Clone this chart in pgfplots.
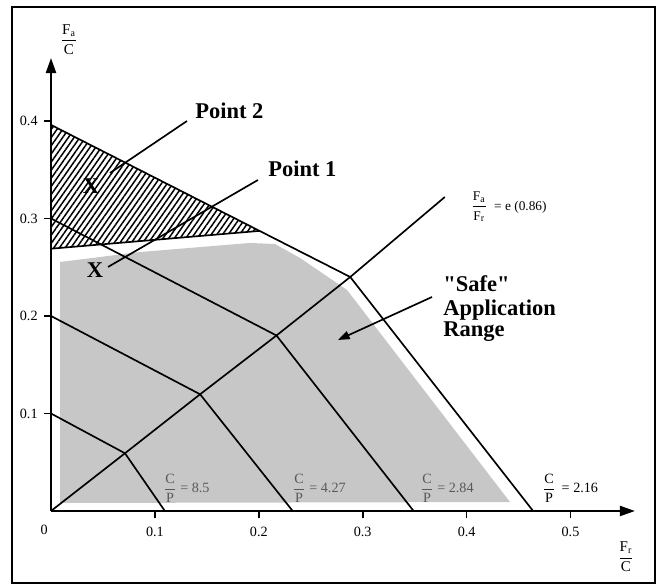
\documentclass[border=0pt]{standalone}
\usepackage{pgfplots}
\pgfplotsset{compat=1.18}
\usepackage{fontspec}
\setmainfont{Liberation Serif}
\usetikzlibrary{patterns.meta,arrows.meta}

% stacked fraction set in the text font
\newcommand{\fr}[2]{$\displaystyle\frac{\mbox{#1}}{\mbox{#2}}$}

\definecolor{safegray}{gray}{0.78}
\definecolor{labgray}{gray}{0.35}

\begin{document}
\begin{tikzpicture}
\begin{axis}[
  x=623.4pt, y=585pt,
  xmin=0, xmax=0.562, ymin=0, ymax=0.4646,
  axis lines=left,
  axis line style={line width=1.3pt, -{Triangle[length=9pt,width=6pt]}},
  clip=false,
  xtick={0.1,0.2,0.3,0.4,0.5},
  ytick={0.1,0.2,0.3,0.4},
  tick align=outside,
  major tick length=4.5pt,
  tick style={black, line width=1pt},
  /pgf/number format/assume math mode=true,
  ticklabel style={font=\fontsize{8.5}{10}\selectfont},
  xticklabel style={yshift=-1.5pt},
]

% overall frame and page extent
\path (axis cs:-0.04909,-0.0759) rectangle (axis cs:0.58325,0.5241);
\draw[line width=1.2pt] (axis cs:-0.03754,-0.07385) rectangle (axis cs:0.5813,0.5169);

% "safe" application range
\addplot[fill=safegray, draw=none] coordinates {
  (0.0087,0.0082) (0.0087,0.2554) (0.0857,0.2656) (0.1915,0.2749)
  (0.2156,0.2738) (0.2397,0.2595) (0.2849,0.2267) (0.4418,0.0092)
  (0.0087,0.0082)};

% hatched region above the range
\addplot[pattern={Lines[angle=55,distance=2.8pt,line width=0.9pt]}, draw=none]
  coordinates {(0,0.396) (0.201,0.2873) (0,0.269) (0,0.396)};
\addplot[black, line width=1pt] coordinates {(0,0.269) (0.201,0.2873)};

% load ratio line Fa/Fr = e
\addplot[black, line width=1pt] coordinates {(0,0) (0.0712,0.0592) (0.1435,0.1197) (0.217,0.180) (0.288,0.240) (0.379,0.322)};

% C/P lines
\addplot[black, line width=1pt] coordinates {(0,0.396) (0.288,0.240) (0.464,0)};
\addplot[black, line width=1pt] coordinates {(0,0.300) (0.217,0.180) (0.349,0)};
\addplot[black, line width=1pt] coordinates {(0,0.200) (0.1435,0.1197) (0.2326,0)};
\addplot[black, line width=1pt] coordinates {(0,0.100) (0.0712,0.0592) (0.1096,0)};

% origin label and axis titles
\node[font=\fontsize{8.5}{10}\selectfont] at (axis cs:-0.0067,-0.0195) {0};
\node[font=\fontsize{9}{10}\selectfont] at (axis cs:0.0173,0.4831) {\fr{F\textsubscript{a}}{C}};
\node[font=\fontsize{9}{10}\selectfont] at (axis cs:0.5534,-0.0472) {\fr{F\textsubscript{r}}{C}};

% C/P labels
\node[anchor=west, inner sep=0pt, text=labgray, font=\fontsize{8.5}{9}\selectfont] at (axis cs:0.1078,0.0236) {\fr{C}{P} = 8.5};
\node[anchor=west, inner sep=0pt, text=labgray, font=\fontsize{8.5}{9}\selectfont] at (axis cs:0.2320,0.0236) {\fr{C}{P} = 4.27};
\node[anchor=west, inner sep=0pt, text=labgray, font=\fontsize{8.5}{9}\selectfont] at (axis cs:0.3551,0.0236) {\fr{C}{P} = 2.84};
\node[anchor=west, inner sep=0pt, font=\fontsize{8.5}{9}\selectfont] at (axis cs:0.4726,0.0236) {\fr{C}{P} \,= 2.16};

% e-line label
\node[anchor=west, inner sep=0pt, font=\fontsize{8}{9}\selectfont] at (axis cs:0.4038,0.3118) {\fr{F\textsubscript{a}}{F\textsubscript{r}}\hspace{4pt}= e (0.86)};

% points
\node[font=\bfseries\fontsize{13.5}{15}\selectfont] at (axis cs:0.0385,0.3333) {X};
\node[font=\bfseries\fontsize{13.5}{15}\selectfont] at (axis cs:0.0423,0.2472) {X};
\draw[line width=1pt] (axis cs:0.0568,0.3467) -- (axis cs:0.1309,0.4000);
\draw[line width=1pt] (axis cs:0.0549,0.2503) -- (axis cs:0.1992,0.3395);
\node[anchor=base west, inner sep=0pt, font=\bfseries\fontsize{13.5}{15}\selectfont] at (axis cs:0.1386,0.4028) {Point 2};
\node[anchor=base west, inner sep=0pt, font=\bfseries\fontsize{13.5}{15}\selectfont] at (axis cs:0.2089,0.3429) {Point 1};

% safe range annotation
\node[anchor=base west, inner sep=0pt, font=\bfseries\fontsize{13.5}{15}\selectfont] at (axis cs:0.3773,0.2256) {\textquotedbl Safe\textquotedbl};
\node[anchor=base west, inner sep=0pt, font=\bfseries\fontsize{13.5}{15}\selectfont] at (axis cs:0.3773,0.2010) {Application};
\node[anchor=base west, inner sep=0pt, font=\bfseries\fontsize{13.5}{15}\selectfont] at (axis cs:0.3773,0.1785) {Range};
\draw[line width=1pt, -{Triangle[length=7pt,width=5pt]}] (axis cs:0.3667,0.2195) -- (axis cs:0.2762,0.1754);

\end{axis}
\end{tikzpicture}
\end{document}
